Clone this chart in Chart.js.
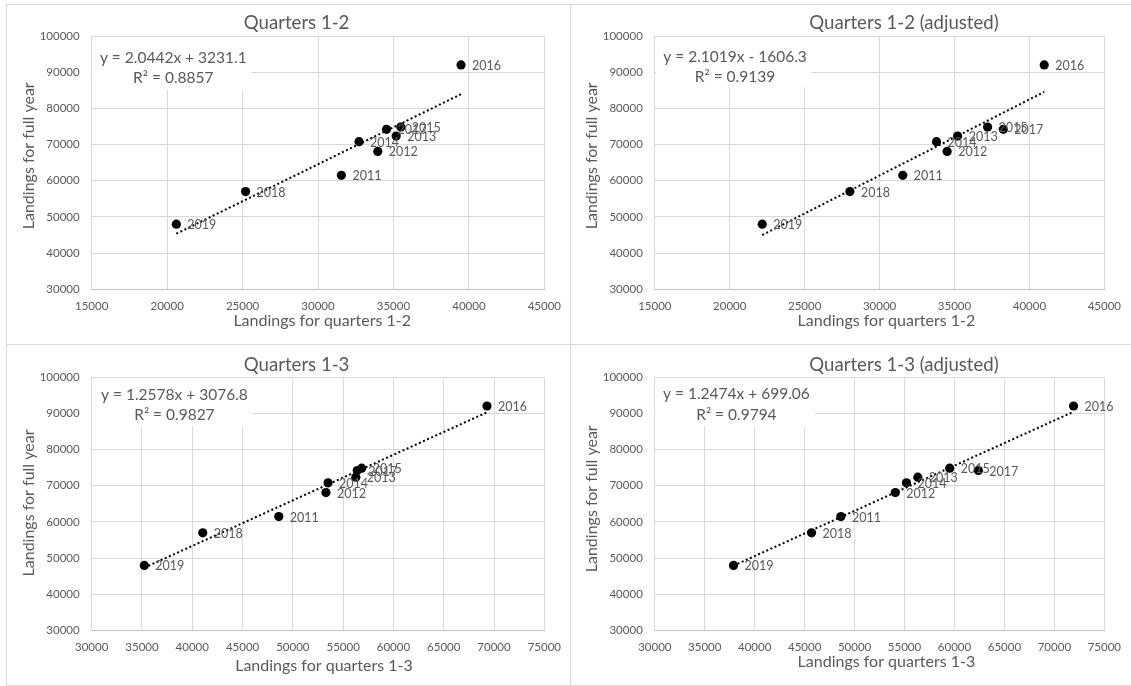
<!DOCTYPE html>
<html>
<head>
<meta charset="utf-8">
<script src="https://cdn.jsdelivr.net/npm/chart.js@4.4.0/dist/chart.umd.min.js"></script>
<style>
  body { margin: 0; background: #fff; width: 1131px; height: 686px; position: relative; overflow: hidden; }
  canvas { position: absolute; }
  .frame { position: absolute; border: 1px solid #d9d9d9; box-sizing: border-box; pointer-events: none; }
</style>
</head>
<body>
<canvas id="c1"></canvas>
<canvas id="c2"></canvas>
<canvas id="c3"></canvas>
<canvas id="c4"></canvas>
<div class="frame" style="left:6px;top:4px;width:565px;height:341px"></div>
<div class="frame" style="left:570px;top:4px;width:570px;height:341px"></div>
<div class="frame" style="left:6px;top:344px;width:565px;height:342px"></div>
<div class="frame" style="left:570px;top:344px;width:570px;height:342px"></div>
<script>
// values
const years = ['2011', '2012', '2013', '2014', '2015', '2016', '2017', '2018', '2019'];
const fullYear = [61500, 68100, 72350, 70800, 74850, 92000, 74200, 57000, 48000];
const q12 = [31550, 33960, 35180, 32720, 35490, 39480, 34540, 25200, 20610];
const q12Adj = [31550, 34510, 35210, 33800, 37210, 40990, 38260, 28020, 22170];
const q13 = [48600, 53290, 56260, 53500, 56840, 69300, 56400, 41040, 35230];
const q13Adj = [48630, 54080, 56330, 55190, 59520, 71920, 62390, 45690, 37880];

const titles = ['Quarters 1-2', 'Quarters 1-2 (adjusted)', 'Quarters 1-3', 'Quarters 1-3 (adjusted)'];
const xTitles = ['Landings for quarters 1-2', 'Landings for quarters 1-2', 'Landings for quarters 1-3', 'Landings for quarters 1-3'];
const yTitle = 'Landings for full year';
const slopes = [2.0442, 2.1019, 1.2578, 1.2474];
const intercepts = [3231.1, -1606.3, 3076.8, 699.06];
const equations = ['y = 2.0442x + 3231.1', 'y = 2.1019x - 1606.3', 'y = 1.2578x + 3076.8', 'y = 1.2474x + 699.06'];
const rSquared = ['R\u00b2 = 0.8857', 'R\u00b2 = 0.9139', 'R\u00b2 = 0.9827', 'R\u00b2 = 0.9794'];
const xMin = [15000, 15000, 30000, 30000];
const xMax = [45000, 45000, 75000, 75000];
const xStep = 5000;
const yMin = 30000, yMax = 100000, yStep = 10000;

const xSeries = [q12, q12Adj, q13, q13Adj];

// canvas placement and text positions (canvas coordinates)
const panels = [
  { id: 'c1', left: 6, top: 4, w: 565, h: 341, plotL: 85.7, padR: 25.9, padT: 32, xH: 55.7,
    titleX: 290.6, titleY: 24.5, eqX: 167.3, eqY: 58.7, boxR: 245.6, boxB: 86, yTx: 27.5, yTy: 151.8, xTx: 316.2, xTy: 322 },
  { id: 'c2', left: 570, top: 4, w: 561, h: 341, plotL: 84.8, padR: 22.8, padT: 32, xH: 55.7,
    titleX: 334, titleY: 24.5, eqX: 165, eqY: 57.7, boxR: 241.5, boxB: 83.3, yTx: 27, yTy: 151.8, xTx: 316.4, xTy: 322 },
  { id: 'c3', left: 6, top: 344, w: 565, h: 342, plotL: 85.7, padR: 25.9, padT: 33, xH: 55.3,
    titleX: 290.6, titleY: 26.7, eqX: 168.4, eqY: 55.7, boxR: 246.7, boxB: 82.3, yTx: 27.5, yTy: 159, xTx: 318, xTy: 327 },
  { id: 'c4', left: 570, top: 344, w: 561, h: 342, plotL: 84.8, padR: 22.8, padT: 33, xH: 55.3,
    titleX: 334, titleY: 26.7, eqX: 166.4, eqY: 55, boxR: 245, boxB: 82.3, yTx: 27, yTy: 154.8, xTx: 316.4, xTy: 323 }
];

const textGray = '#595959';
const font = 'Lato';

const decor = {
  id: 'decor',
  beforeDatasetsDraw(chart, args, opts) {
    const { ctx, chartArea } = chart;
    const p = opts.panel;
    ctx.save();
    ctx.fillStyle = '#fff';
    ctx.fillRect(chartArea.left + 1, chartArea.top + 1, p.boxR - chartArea.left - 1, p.boxB - chartArea.top - 1);
    ctx.fillStyle = textGray;
    ctx.font = '15.5px ' + font;
    ctx.textAlign = 'center';
    ctx.textBaseline = 'alphabetic';
    ctx.fillText(equations[opts.idx], p.eqX, p.eqY);
    ctx.fillText(rSquared[opts.idx], p.eqX, p.eqY + 20.5);
    ctx.restore();
  },
  afterDatasetsDraw(chart, args, opts) {
    const { ctx } = chart;
    const p = opts.panel;
    ctx.save();
    ctx.fillStyle = textGray;
    ctx.font = '12.5px ' + font;
    ctx.textAlign = 'left';
    ctx.textBaseline = 'middle';
    chart.getDatasetMeta(0).data.forEach((pt, i) => {
      ctx.fillText(years[i], pt.x + 11, pt.y + 1);
    });
    ctx.font = '18.6px ' + font;
    ctx.textAlign = 'center';
    ctx.textBaseline = 'alphabetic';
    ctx.fillText(titles[opts.idx], p.titleX, p.titleY);
    ctx.font = '16px ' + font;
    ctx.fillText(xTitles[opts.idx], p.xTx, p.xTy);
    ctx.translate(p.yTx, p.yTy);
    ctx.rotate(-Math.PI / 2);
    ctx.fillText(yTitle, 0, 0);
    ctx.restore();
  }
};

panels.forEach((p, idx) => {
  const cv = document.getElementById(p.id);
  cv.width = p.w; cv.height = p.h;
  cv.style.left = p.left + 'px'; cv.style.top = p.top + 'px';
  cv.style.width = p.w + 'px'; cv.style.height = p.h + 'px';

  const xs = xSeries[idx];
  const lo = Math.min(...xs), hi = Math.max(...xs);
  const a = slopes[idx], b = intercepts[idx];

  new Chart(cv.getContext('2d'), {
    type: 'scatter',
    data: {
      datasets: [{
        label: 'points',
        data: xs.map((x, i) => ({ x: x, y: fullYear[i] })),
        backgroundColor: '#000',
        borderColor: '#000',
        borderWidth: 0,
        pointRadius: 4.6
      }, {
        label: 'trend',
        data: [{ x: lo, y: a * lo + b }, { x: hi, y: a * hi + b }],
        showLine: true,
        borderColor: '#000',
        borderWidth: 2,
        borderDash: [2, 2.5],
        pointRadius: 0
      }]
    },
    options: {
      responsive: false,
      animation: false,
      devicePixelRatio: 1,
      layout: { padding: { left: 0, top: p.padT, right: p.padR, bottom: 0 } },
      plugins: {
        legend: { display: false },
        tooltip: { enabled: false },
        decor: { panel: p, idx: idx }
      },
      scales: {
        x: {
          type: 'linear',
          min: xMin[idx],
          max: xMax[idx],
          afterFit: s => { s.height = p.xH; },
          ticks: {
            stepSize: xStep,
            color: textGray,
            font: { family: font, size: 11.5 },
            padding: 10,
            maxRotation: 0,
            callback: v => String(v)
          },
          grid: { color: '#d9d9d9', drawTicks: false },
          border: { color: '#bfbfbf' }
        },
        y: {
          type: 'linear',
          min: yMin,
          max: yMax,
          afterFit: s => { s.width = p.plotL; },
          ticks: {
            stepSize: yStep,
            color: textGray,
            font: { family: font, size: 11.5 },
            padding: 12,
            callback: v => String(v)
          },
          grid: { color: '#d9d9d9', drawTicks: false },
          border: { color: '#d9d9d9' }
        }
      }
    },
    plugins: [decor]
  });
});
</script>
</body>
</html>
